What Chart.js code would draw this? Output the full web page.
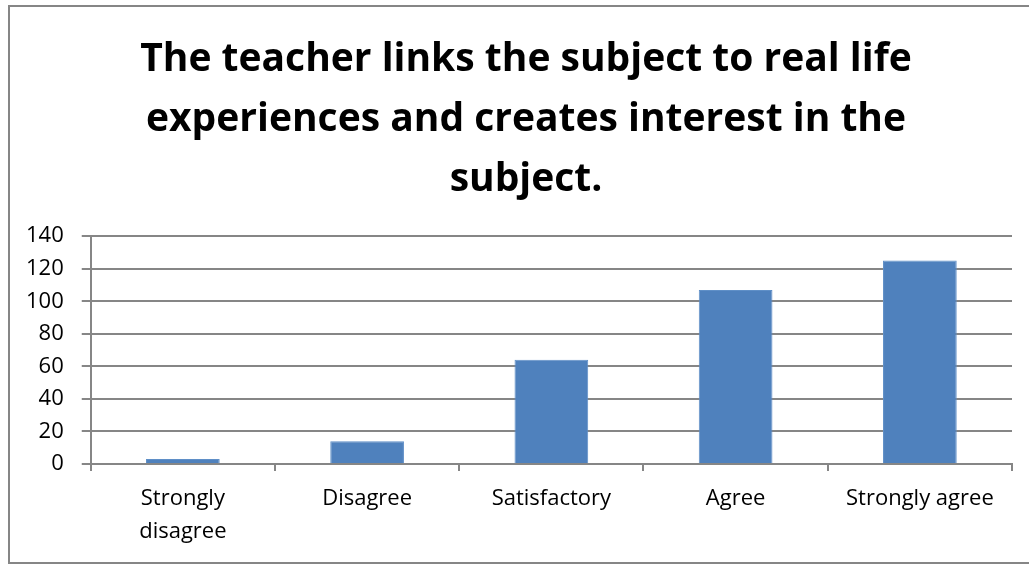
<!DOCTYPE html>
<html>
<head>
<meta charset="utf-8">
<script src="https://cdn.jsdelivr.net/npm/chart.js@4"></script>
<style>
html,body{margin:0;padding:0;background:#fff;width:1029px;height:565px;overflow:hidden;}
#frame{position:absolute;left:8px;top:5px;width:1040px;height:559px;border:2px solid #868686;box-sizing:border-box;}
#wrap{position:absolute;left:0;top:0;width:1029px;height:565px;}
</style>
</head>
<body>
<div id="frame"></div>
<div id="wrap"><canvas id="c" width="1029" height="565"></canvas></div>
<script>
const categories = [["Strongly","disagree"], "Disagree", "Satisfactory", "Agree", "Strongly agree"];
const values = [3, 14, 64, 107, 125];
const titleLines = ["The teacher links the subject to real life", "experiences and creates interest in the", "subject."];
const yTicks = [0, 20, 40, 60, 80, 100, 120, 140];

const titleShift = {
  id: 'titleShift',
  afterLayout(chart) {
    const t = chart.titleBlock;
    if (t) { t.left += 16; t.right += 16; }
  }
};

new Chart(document.getElementById('c'), {
  type: 'bar',
  data: {
    labels: categories,
    datasets: [{
      data: values,
      backgroundColor: '#4F81BD',
      borderColor: '#5F8FC7',
      borderWidth: 1,
      barPercentage: 0.40,
      categoryPercentage: 1.0
    }]
  },
  plugins: [titleShift],
  options: {
    responsive: false,
    animation: false,
    devicePixelRatio: 1,
    layout: { padding: { left: 8, right: 17, top: 0, bottom: 6 } },
    plugins: {
      legend: { display: false },
      tooltip: { enabled: false },
      title: {
        display: true,
        text: titleLines,
        color: '#000',
        font: { family: 'Open Sans', size: 39, weight: 'bold', lineHeight: 1.54 },
        padding: { top: 30, bottom: 26 }
      }
    },
    scales: {
      x: {
        offset: true,
        grid: { offset: true, drawOnChartArea: false, drawTicks: true, tickLength: 7, color: '#868686', lineWidth: 2 },
        border: { display: true, color: '#868686', width: 2 },
        ticks: { color: '#000', font: { family: 'Open Sans', size: 22, lineHeight: 1.5 }, padding: 11, maxRotation: 0, autoSkip: false }
      },
      y: {
        min: 0, max: 140,
        afterBuildTicks: (axis) => { axis.ticks = yTicks.map(v => ({ value: v })); },
        grid: { color: '#868686', lineWidth: 2, tickLength: 9, drawTicks: true },
        border: { display: true, color: '#868686', width: 2 },
        ticks: { color: '#000', font: { family: 'Open Sans', size: 22 }, padding: 18 }
      }
    }
  }
});
</script>
</body>
</html>
